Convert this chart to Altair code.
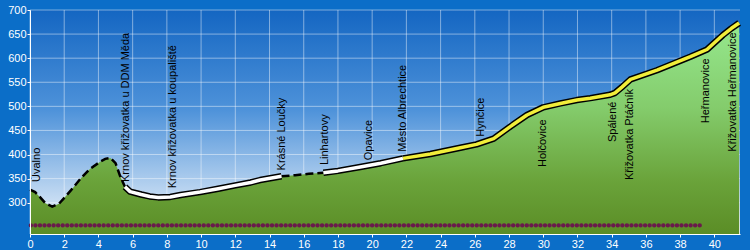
import altair as alt
import pandas as pd

# ---- profile data (km, elevation m) ----
km = [0.0, 0.3, 0.6, 0.9, 1.3, 1.7, 2.05, 2.4, 3.0, 3.5, 4.1, 4.4, 4.7, 5.0, 5.26, 5.55,
      5.85, 6.5, 7.0, 7.5, 8.2, 8.8, 9.94, 11.0, 12.0, 12.9, 13.45, 14.7, 15.5, 16.3, 17.15,
      18.0, 19.3, 20.5, 21.8, 23.4, 25.15, 26.1, 27.1, 28.07, 29.05, 30.0, 31.0, 31.97,
      32.75, 33.9, 34.2, 34.6, 35.1, 36.65, 38.6, 39.57, 40.5, 41.0, 41.45]
elev = [327, 322, 311, 299, 292, 298, 312, 326, 352, 370, 385, 391, 393, 382, 356, 333,
        323, 317, 313, 311, 312, 316, 322, 329, 336, 342, 347, 355, 357, 360, 362,
        366, 374, 382, 392, 401, 414, 421, 433, 458, 482, 498, 506, 513,
        517, 524, 528, 540, 556, 575, 603, 618, 648, 662, 673]

# segment boundaries (km) and their line style
seg_bounds = [0.0, 5.55, 14.7, 17.15, 21.8, 41.45]
seg_styles = ["dash", "white", "dash", "white", "yellow"]

# ---- place labels ----
label_names = ["Úvalno", "Krnov křižovatka u DDM Měda", "Krnov křižovatka u koupaliště",
               "Krásné Loučky", "Linhartovy", "Opavice", "Město Albrechtice", "Hynčice",
               "Holčovice", "Spálené", "Křižovatka Ptáčník", "Heřmanovice",
               "Křižovatka Heřmanovice"]
label_km = [0.43, 5.61, 8.34, 14.72, 17.25, 19.8, 21.8, 26.36, 30.0, 34.07, 35.05, 39.53, 41.09]
label_elev = [343, 343, 330, 367, 378, 388, 406, 437, 374, 426, 347, 465, 406]

# ---- axes ----
x_ticks = list(range(0, 41, 2))
y_ticks = [300, 350, 400, 450, 500, 550, 600, 650, 700]
X_DOMAIN = [0, 41.5]
Y_DOMAIN = [235, 700]

# row of markers
DOTS_START_KM = 0.05
DOTS_END_KM = 39.28
DOTS_ELEV = 253

FONT = "Liberation Sans"
W, H = 710, 224

# ---- build tables ----
prof = pd.DataFrame({"km": km, "elev": elev})
rows = []
for i, style in enumerate(seg_styles):
    a, b = seg_bounds[i], seg_bounds[i + 1]
    for k, e in zip(km, elev):
        if a - 1e-9 <= k <= b + 1e-9:
            rows.append({"km": k, "elev": e, "seg": i, "style": style})
segs = pd.DataFrame(rows)
labels = pd.DataFrame({"name": label_names, "km": label_km, "elev": label_elev})
xt = pd.DataFrame({"v": x_ticks})
yt = pd.DataFrame({"v": y_ticks})

xs = alt.Scale(domain=X_DOMAIN, nice=False, zero=False)
ys = alt.Scale(domain=Y_DOMAIN, nice=False, zero=False)

x_axis = alt.Axis(values=x_ticks, title=None, grid=False, labelColor="white",
                  domainColor="white", tickColor="white", tickSize=3, labelFont=FONT,
                  labelFontSize=11, labelPadding=1, labelFlush=False, labelOverlap=False,
                  zindex=2)
y_axis = alt.Axis(values=y_ticks, title=None, grid=False, labelColor="white",
                  domainColor="white", tickColor="white", tickSize=3, labelFont=FONT,
                  labelFontSize=11, labelPadding=1, labelOverlap=False, zindex=2)


def X(field):
    return alt.X(field, scale=xs, axis=x_axis)


def Y(field):
    return alt.Y(field, scale=ys, axis=y_axis)


bg = alt.Chart(alt.Data(values=[{}])).mark_rect(
    color=alt.LinearGradient(gradient="linear", x1=0, y1=0, x2=0, y2=1,
                             stops=[alt.GradientStop(offset=0, color="#1466c2"),
                                    alt.GradientStop(offset=0.45, color="#4f93da"),
                                    alt.GradientStop(offset=1, color="#f4f8fc")])
).encode(x=alt.value(0), x2=alt.value(W), y=alt.value(0), y2=alt.value(H))

vgrid = alt.Chart(xt).mark_rule(color="white", opacity=0.45, strokeWidth=1).encode(
    x=X("v:Q"), y=alt.value(0), y2=alt.value(H))
hgrid = alt.Chart(yt).mark_rule(color="white", opacity=0.45, strokeWidth=1).encode(
    y=Y("v:Q"), x=alt.value(0), x2=alt.value(W))

area = alt.Chart(prof).mark_area(
    clip=True,
    color=alt.LinearGradient(gradient="linear", x1=0, y1=0, x2=0, y2=1,
                             stops=[alt.GradientStop(offset=0, color="#96e88e"),
                                    alt.GradientStop(offset=0.4, color="#84cc6c"),
                                    alt.GradientStop(offset=0.75, color="#6aa33a"),
                                    alt.GradientStop(offset=1, color="#5b8d26")])
).encode(x=X("km:Q"), y=Y("elev:Q"), y2=alt.datum(Y_DOMAIN[0]))

dash = alt.Chart(segs).transform_filter(alt.datum.style == "dash").mark_line(
    color="black", strokeWidth=2.5, strokeDash=[8, 4]
).encode(x=X("km:Q"), y=Y("elev:Q"), detail="seg:N")

outline = alt.Chart(segs).transform_filter(alt.datum.style != "dash").mark_line(
    color="black", strokeWidth=6.5, strokeJoin="round"
).encode(x=X("km:Q"), y=Y("elev:Q"), detail="seg:N")

inner = alt.Chart(segs).transform_filter(alt.datum.style != "dash").mark_line(
    strokeWidth=3.5, strokeJoin="round"
).encode(x=X("km:Q"), y=Y("elev:Q"), detail="seg:N",
         color=alt.Color("style:N", scale=alt.Scale(domain=["white", "yellow"],
                                                    range=["#ffffff", "#f2ee3a"]),
                         legend=None))

dots = alt.Chart(alt.Data(values=[{}])).mark_rule(
    color="#6a1a4c", strokeWidth=4.4, strokeCap="round", strokeDash=[0.01, 4.54]
).encode(x=alt.datum(DOTS_START_KM, scale=xs, axis=x_axis), x2=alt.datum(DOTS_END_KM),
         y=alt.datum(DOTS_ELEV, scale=ys, axis=y_axis))

text = alt.Chart(labels).mark_text(
    angle=270, align="left", baseline="middle", font=FONT, fontSize=11, color="black"
).encode(x=X("km:Q"), y=Y("elev:Q"), text="name:N")

chart = alt.layer(bg, vgrid, hgrid, area, dash, outline, inner, dots, text).properties(
    width=W, height=H, autosize="none",
    padding={"left": 30, "top": 10, "right": 10, "bottom": 16},
    background="#0b6ec8"
).configure_view(stroke=None)

chart.save("out.html", embed_options={"renderer": "svg", "actions": False})
